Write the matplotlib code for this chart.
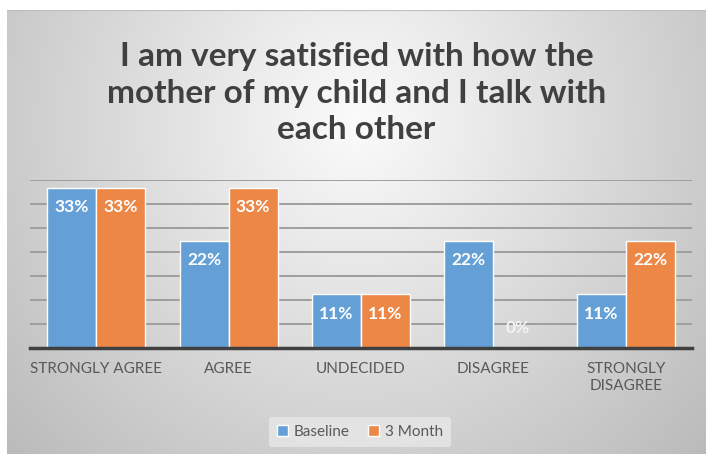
import numpy as np
import matplotlib
matplotlib.use("Agg")
import matplotlib.pyplot as plt

categories = ["STRONGLY AGREE", "AGREE", "UNDECIDED", "DISAGREE", "STRONGLY\nDISAGREE"]
baseline = [33.33, 22.22, 11.11, 22.22, 11.11]
month3 = [33.33, 33.33, 11.11, 0.0, 22.22]
series_names = ["Baseline", "3 Month"]
title = "I am very satisfied with how the\nmother of my child and I talk with\neach other"

blue = "#64A0D6"
orange = "#EC8746"

plt.rcParams["font.family"] = ["Lato", "DejaVu Sans"]

fig = plt.figure(figsize=(7.06, 4.54), dpi=100)
fig.patch.set_facecolor("white")

# gradient background panel (Excel-like radial fill)
W, H = 706, 454
x0, y0 = 7 / W, 0.0
bg = fig.add_axes([x0, y0, 1 - x0, 1 - 10 / H - y0], zorder=0)
xx, yy = np.meshgrid(np.linspace(0, 1, 300), np.linspace(0, 1, 200))
r = np.sqrt(((xx - 0.5) / 0.62) ** 2 + ((yy - 0.25) / 1.0) ** 2)
g = 0.985 - 0.23 * np.clip(r, 0, 1.1)
bg.imshow(np.dstack([g, g, g]), aspect="auto", extent=[0, 1, 1, 0])
bg.axhline(0.0, color="#bdbdbd", lw=1.5)
bg.set_axis_off()

ax = fig.add_axes([30 / W, 1 - 347.7 / H, (692 - 30) / W, (347.7 - 179.5) / H], zorder=1)
ax.patch.set_alpha(0)

x = np.arange(len(categories))
w = 0.37
b1 = ax.bar(x - w / 2, baseline, w, color=blue, edgecolor="white", linewidth=1, label=series_names[0], zorder=3)
b2 = ax.bar(x + w / 2, month3, w, color=orange, edgecolor="white", linewidth=1, label=series_names[1], zorder=3)

for bars, vals in [(b1, baseline), (b2, month3)]:
    for bar, v in zip(bars, vals):
        cx = bar.get_x() + bar.get_width() / 2
        txt = f"{v:.0f}%"
        if v > 0:
            ax.annotate(txt, (cx, v), xytext=(0, -14), textcoords="offset points",
                        ha="center", va="center", color="white", fontsize=12.5, fontweight="bold", zorder=4)
        else:
            ax.annotate(txt, (cx, v), xytext=(0, 14), textcoords="offset points",
                        ha="center", va="center", color="#f4f4f4", fontsize=12.5, fontweight="bold", zorder=4)

ax.set_xlim(-0.5, len(categories) - 0.5)
ax.set_ylim(0, 35)
ax.set_yticks(np.arange(0, 36, 5))
ax.yaxis.grid(True, color="#9e9e9e", linewidth=1.4, zorder=1)
ax.set_axisbelow(True)
ax.tick_params(axis="y", left=False, labelleft=False)
ax.tick_params(axis="x", length=0, pad=10, labelsize=11, labelcolor="#595959")
ax.set_xticks(x)
ax.set_xticklabels(categories, linespacing=1.3)
for s in ["top", "right", "left"]:
    ax.spines[s].set_visible(False)
ax.spines["bottom"].set_color("#404040")
ax.spines["bottom"].set_linewidth(2.5)
ax.spines["bottom"].set_zorder(5)

fig.text(0.505, 1 - 93 / H, title, ha="center", va="center", fontsize=24, fontweight="bold",
         color="#404040", linespacing=1.3)

leg = fig.legend(loc="center", bbox_to_anchor=(360 / W, 1 - 432 / H), ncol=2, frameon=True,
                 fontsize=11, handlelength=0.7, handleheight=0.7, handletextpad=0.4, columnspacing=1.2,
                 borderpad=0.5)
leg.get_frame().set_facecolor("#e8e8e8")
leg.get_frame().set_edgecolor("none")
leg.get_frame().set_alpha(0.8)
for t in leg.get_texts():
    t.set_color("#595959")

fig.savefig("out.png", dpi=100)
